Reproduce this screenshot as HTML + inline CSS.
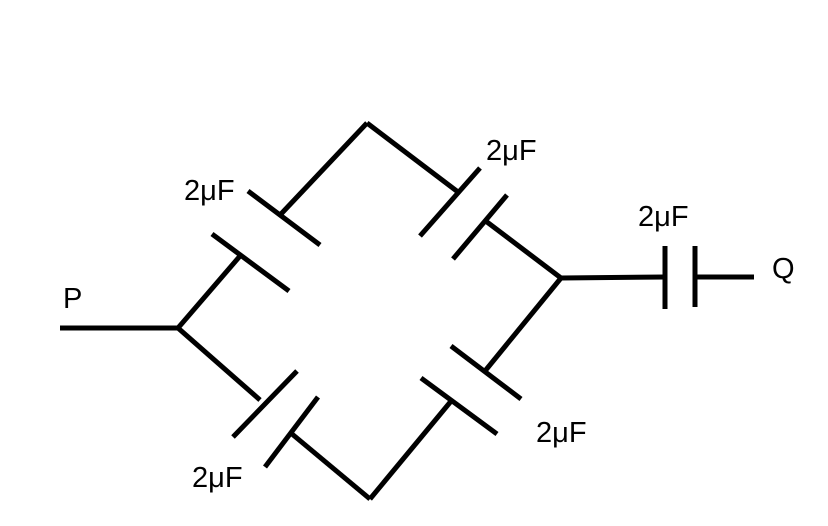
<!DOCTYPE html>
<html><head><meta charset="utf-8"><style>html,body{margin:0;padding:0;background:#fff}svg{display:block}</style></head>
<body>
<svg width="828" height="526" viewBox="0 0 828 526" xmlns="http://www.w3.org/2000/svg">
<g stroke="#000" stroke-width="5" fill="none" stroke-linecap="butt">
<line x1="60" y1="328" x2="178" y2="328"/>
<line x1="178" y1="328" x2="240" y2="256"/>
<line x1="212" y1="234" x2="289" y2="291"/>
<line x1="248" y1="191" x2="320" y2="245"/>
<line x1="281" y1="214" x2="367" y2="123"/>
<line x1="367" y1="123" x2="458" y2="192"/>
<line x1="420" y1="236" x2="480" y2="168"/>
<line x1="453" y1="259" x2="507" y2="195"/>
<line x1="487" y1="222" x2="561" y2="278"/>
<line x1="561" y1="278" x2="665" y2="277"/>
<line x1="665" y1="246" x2="665" y2="309"/>
<line x1="695" y1="246" x2="695" y2="307"/>
<line x1="695" y1="277" x2="754" y2="277"/>
<line x1="178" y1="328" x2="260" y2="400"/>
<line x1="233" y1="437" x2="297" y2="371"/>
<line x1="265" y1="467" x2="318" y2="397"/>
<line x1="292" y1="434" x2="370" y2="499"/>
<line x1="370" y1="499" x2="452" y2="400"/>
<line x1="421" y1="378" x2="497" y2="434"/>
<line x1="451" y1="346" x2="521" y2="399"/>
<line x1="485" y1="371" x2="561" y2="278"/>
</g>
<g font-family="Liberation Sans, sans-serif" font-size="29" fill="#000">
<text x="184" y="200">2μF</text>
<text x="486" y="160">2μF</text>
<text x="638" y="226">2μF</text>
<text x="536" y="442">2μF</text>
<text x="192" y="487">2μF</text>
<text x="63" y="308">P</text>
<text x="772" y="278">Q</text>
</g>
</svg>
</body></html>
